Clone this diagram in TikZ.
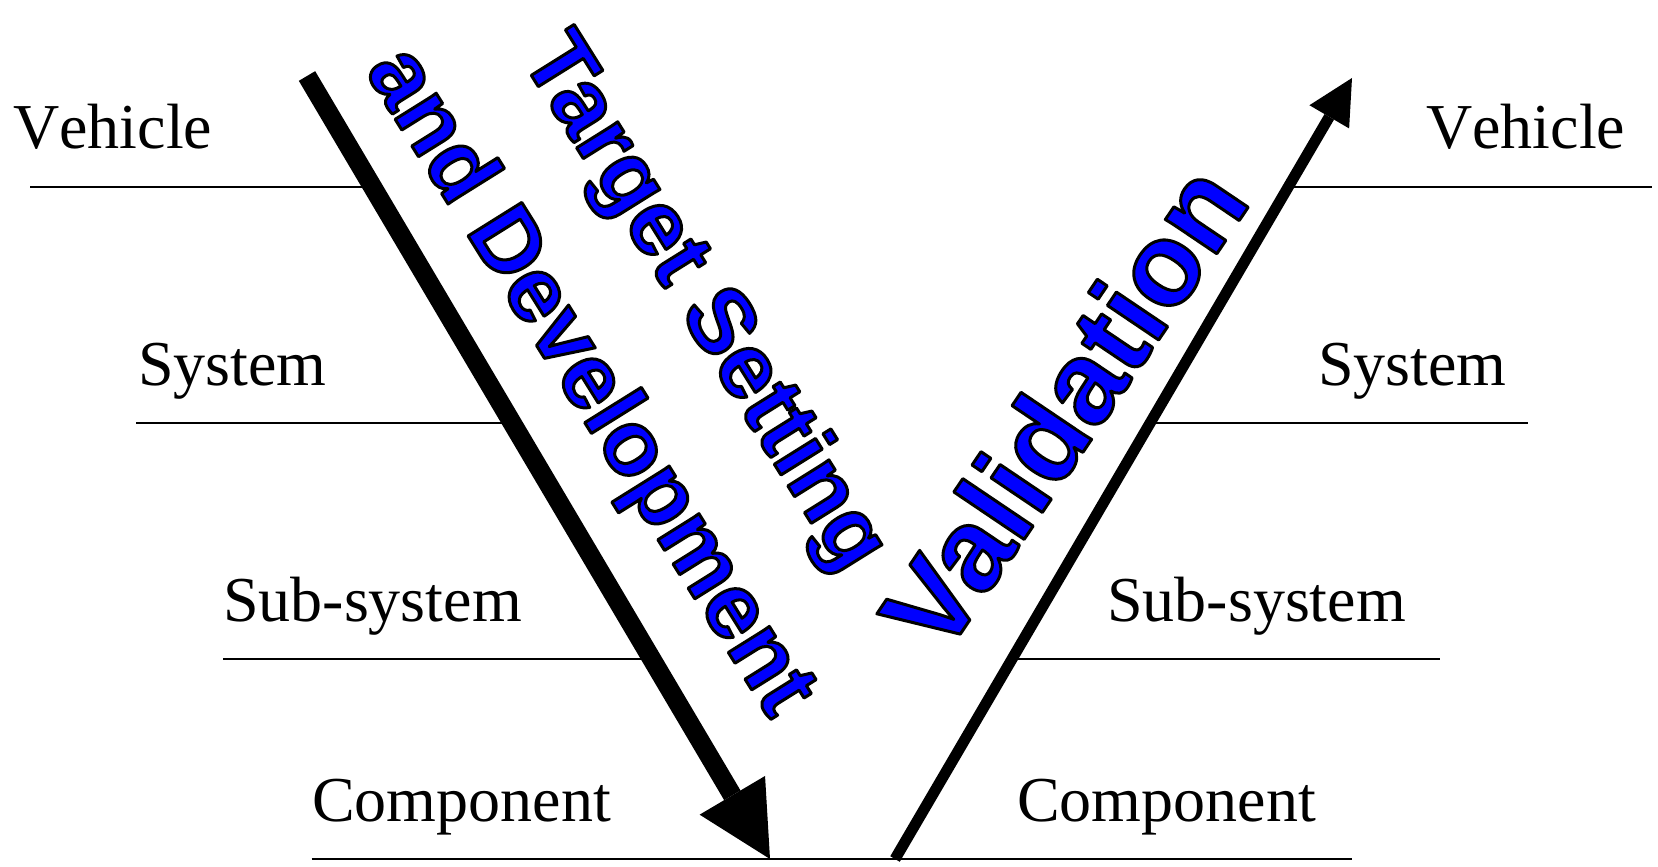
\documentclass[tikz,border=0pt]{standalone}
\usepackage{fontspec}
\setmainfont{Liberation Serif}[Kerning=Off]
\newfontfamily\blsans{Liberation Sans}
\newcommand{\outlinedtext}[1]{\special{pdf:literal direct 2 Tr 0 0 0 RG 3 w 1 j}#1\special{pdf:literal direct 0 Tr}}
\usetikzlibrary{arrows.meta}
\begin{document}
\begin{tikzpicture}[x=1pt,y=-1pt,
  lbl/.style={anchor=base west, inner sep=0pt, font=\fontsize{64}{70}\selectfont},
  floor/.style={line width=2pt},
  bluetext/.style={inner sep=0pt, text=blue, font=\blsans\bfseries\fontsize{92}{95}\selectfont},
  bigtext/.style={inner sep=0pt, text=blue, font=\blsans\bfseries\fontsize{117}{117}\selectfont}]
\useasboundingbox (0,0) rectangle (1658,867);
% labels
\node[lbl] (lveh) at (13,148) {Vehicle};
\node[lbl] (lsys) at (138,385) {System};
\node[lbl] (lsub) at (223,621.5) {Sub-system};
\node[lbl] (lcom) at (312,821.7) {Component};
\node[lbl] (rveh) at (1426,148) {Vehicle};
\node[lbl] (rsys) at (1318,385) {System};
\node[lbl] (rsub) at (1107,621) {Sub-system};
\node[lbl] (rcom) at (1017,821.7) {Component};
% floor lines
\coordinate (a1) at (30,186.5);   \coordinate (a2) at (372,186.5);
\coordinate (b1) at (136,422.7);  \coordinate (b2) at (512,422.7);
\coordinate (c1) at (223,659);    \coordinate (c2) at (652,659);
\coordinate (d1) at (311.7,859);  \coordinate (d2) at (1352,859);
\coordinate (e1) at (1288,186.5); \coordinate (e2) at (1652,186.5);
\coordinate (f1) at (1150,422.7); \coordinate (f2) at (1528,422.7);
\coordinate (g1) at (1012,659);   \coordinate (g2) at (1440,659);
\draw[floor] (a1) -- (a2);
\draw[floor] (b1) -- (b2);
\draw[floor] (c1) -- (c2);
\draw[floor] (d1) -- (d2);
\draw[floor] (e1) -- (e2);
\draw[floor] (f1) -- (f2);
\draw[floor] (g1) -- (g2);
% arrows
\coordinate (lt) at (307,76);
\coordinate (lb) at (770,859);
\coordinate (rb) at (895,859);
\coordinate (rt) at (1352,78);
\draw[line width=19pt, -{Triangle[length=74pt,width=76pt,line width=0pt]}] (lt) -- (lb);
\draw[line width=11pt, -{Triangle[length=45pt,width=46pt,line width=0pt]}] (rb) -- (rt);
% blue texts
\node[bluetext, rotate=-58] (tset) at (702,304) {\outlinedtext{Target Setting}};
\node[bluetext, rotate=-58] (adev) at (588,383) {\outlinedtext{and Development}};
\node[bigtext, rotate=56] (val) at (1063,407) {\outlinedtext{Validation}};
\end{tikzpicture}
\end{document}
